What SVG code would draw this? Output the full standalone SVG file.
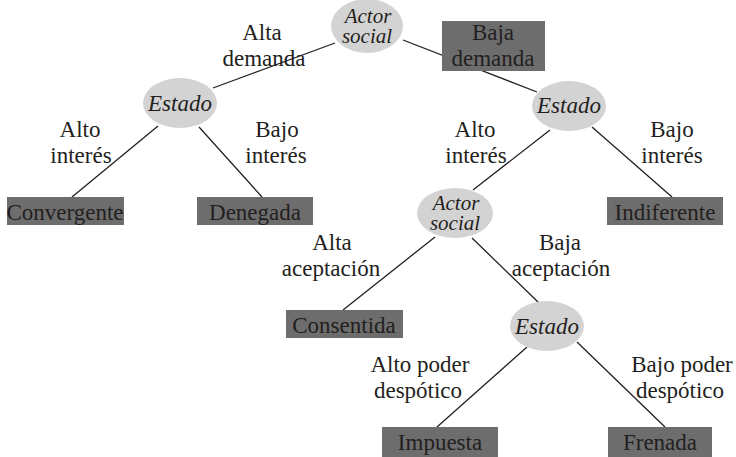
<svg xmlns="http://www.w3.org/2000/svg" width="736" height="457" viewBox="0 0 736 457" font-family="'Liberation Serif', 'DejaVu Serif', 'Times New Roman', serif">
<style>
text{font-family:"Liberation Serif","DejaVu Serif","Times New Roman",serif;font-size:23px;fill:#231f20;text-anchor:middle}
.it{font-style:italic}
.sm{font-size:21px}
.ell{fill:#d3d3d3}
.box{fill:#6d6d6d}
.con line{stroke:#231f20;stroke-width:1.3}
</style>
<rect width="736" height="457" fill="#ffffff"/>
<g id="edge-labels">
<text x="262" y="40">Alta</text><text x="264" y="66">demanda</text>
<text x="80" y="137">Alto</text><text x="81" y="163">interés</text>
<text x="277" y="137">Bajo</text><text x="276" y="163">interés</text>
<text x="475" y="137">Alto</text><text x="476" y="163">interés</text>
<text x="672" y="137">Bajo</text><text x="672" y="163">interés</text>
<text x="332" y="250">Alta</text><text x="331" y="276">aceptación</text>
<text x="560" y="250">Baja</text><text x="561" y="276">aceptación</text>
<text x="420" y="372">Alto poder</text><text x="418" y="398">despótico</text>
<text x="682" y="372">Bajo poder</text><text x="680" y="398">despótico</text>
</g>
<g id="connectors" class="con">
<line x1="335" y1="43" x2="213" y2="88"/>
<line x1="403" y1="40" x2="537" y2="92"/>
<line x1="158" y1="126" x2="72" y2="197"/>
<line x1="199" y1="127" x2="262" y2="197"/>
<line x1="550" y1="130" x2="473" y2="190"/>
<line x1="592" y1="127" x2="672" y2="197"/>
<line x1="435" y1="237" x2="343" y2="310"/>
<line x1="472" y1="238" x2="538" y2="302"/>
<line x1="527" y1="347" x2="437" y2="427"/>
<line x1="577" y1="342" x2="665" y2="427"/>
</g>
<g id="actor-top"><ellipse class="ell" cx="367" cy="26" rx="36" ry="27"/><text class="it sm" x="368" y="23">Actor</text><text class="it sm" x="367" y="43">social</text></g>
<g id="baja-demanda"><rect class="box" x="442" y="21" width="103" height="50"/><text x="493" y="40">Baja</text><text x="493" y="66">demanda</text></g>
<g id="estado-left"><ellipse class="ell" cx="180" cy="103" rx="37" ry="25"/><text class="it" x="180" y="111">Estado</text></g>
<g id="estado-right"><ellipse class="ell" cx="569" cy="106" rx="37" ry="25"/><text class="it" x="569" y="113">Estado</text></g>
<g id="convergente"><rect class="box" x="7" y="197" width="117" height="28"/><text x="65" y="220">Convergente</text></g>
<g id="denegada"><rect class="box" x="197" y="197" width="116" height="28"/><text x="255" y="220">Denegada</text></g>
<g id="indiferente"><rect class="box" x="607" y="197" width="116" height="28"/><text x="665" y="220">Indiferente</text></g>
<g id="actor-mid"><ellipse class="ell" cx="455" cy="213" rx="38" ry="25"/><text class="it sm" x="456" y="210">Actor</text><text class="it sm" x="455" y="230">social</text></g>
<g id="consentida"><rect class="box" x="286" y="310" width="117" height="28"/><text x="344" y="333">Consentida</text></g>
<g id="estado-low"><ellipse class="ell" cx="547" cy="326" rx="37" ry="25"/><text class="it" x="547" y="334">Estado</text></g>
<g id="impuesta"><rect class="box" x="382" y="427" width="116" height="30"/><text x="440" y="450">Impuesta</text></g>
<g id="frenada"><rect class="box" x="608" y="427" width="104" height="30"/><text x="660" y="450">Frenada</text></g>
</svg>
